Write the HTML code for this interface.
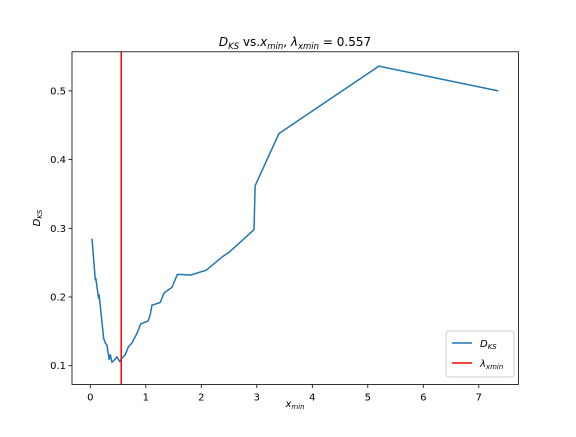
<!DOCTYPE html>
<html><head><meta charset="utf-8"><style>
body{margin:0;background:#fff}
svg text{font-family:"DejaVu Sans","Liberation Sans",sans-serif;fill:#000}
</style></head><body>
<svg id="c" width="576" height="432" xmlns="http://www.w3.org/2000/svg">
<rect width="576" height="432" fill="#fff"/>
<g id="axes"></g>
<text x="295" y="46" text-anchor="middle" font-size="12"><tspan font-style="italic">D</tspan><tspan font-style="italic" font-size="8.5" dy="3">KS</tspan><tspan dy="-3"> vs.</tspan><tspan font-style="italic">x</tspan><tspan font-style="italic" font-size="8.5" dy="3">min</tspan><tspan dy="-3">,  </tspan><tspan font-style="italic">λ</tspan><tspan font-style="italic" font-size="8.5" dy="3">xmin</tspan><tspan dy="-3"> = 0.557</tspan></text>
<text x="295" y="407" text-anchor="middle" font-size="10"><tspan font-style="italic">x</tspan><tspan font-style="italic" font-size="7" dy="2">min</tspan></text>
<text transform="translate(40,218) rotate(-90)" text-anchor="middle" font-size="10"><tspan font-style="italic">D</tspan><tspan font-style="italic" font-size="7" dy="2">KS</tspan></text>
<g>
<rect x="446" y="331" width="68" height="46" rx="3" fill="#fff" stroke="#ccc" stroke-width="1"/>
<line x1="452" y1="343" x2="472" y2="343" stroke="#1f77b4" stroke-width="1.5"/>
<text x="480" y="347" font-size="10"><tspan font-style="italic">D</tspan><tspan font-style="italic" font-size="7" dy="2">KS</tspan></text>
<line x1="452" y1="363" x2="472" y2="363" stroke="red" stroke-width="1.5"/>
<text x="480" y="367" font-size="10"><tspan font-style="italic">λ</tspan><tspan font-style="italic" font-size="7" dy="2">xmin</tspan></text>
</g>
</svg>
<script>
const xVals=[0.03,0.09,0.10,0.12,0.15,0.16,0.24,0.27,0.30,0.34,0.36,0.39,0.44,0.48,0.53,0.57,0.63,0.69,0.75,0.84,0.91,1.04,1.08,1.11,1.26,1.33,1.47,1.57,1.81,2.09,2.37,2.5,2.95,2.97,3.4,5.2,7.35];
const yVals=[0.285,0.225,0.227,0.215,0.198,0.203,0.140,0.133,0.130,0.109,0.116,0.105,0.109,0.113,0.106,0.111,0.116,0.128,0.133,0.147,0.161,0.165,0.174,0.188,0.192,0.206,0.214,0.233,0.232,0.239,0.258,0.265,0.298,0.362,0.438,0.536,0.500];
const lambdaX=0.557;
const xTicks=[0,1,2,3,4,5,6,7];
const yTicks=[0.1,0.2,0.3,0.4,0.5];
const L=72,R=518.4,T=51.8,B=384.5;
const sx=v=>90.3+v*55.5;
const sy=v=>365.7-(v-0.1)*687;
const g=document.getElementById('axes');
const NS='http://www.w3.org/2000/svg';
function mk(t,a){const e=document.createElementNS(NS,t);for(const k in a)e.setAttribute(k,a[k]);g.appendChild(e);return e;}
xTicks.forEach(v=>{
  const l=mk('line',{x1:sx(v),x2:sx(v),y1:B,y2:B+3.5,stroke:'#000','stroke-width':0.8});
  
  
  const t=mk('text',{x:sx(v),y:B+16,'text-anchor':'middle','font-size':10});
  t.textContent=v;
  
  
});
yTicks.forEach(v=>{
  const l=mk('line',{x1:L-3.5,x2:L,y1:sy(v),y2:sy(v),stroke:'#000','stroke-width':0.8});
  
  
  const t=mk('text',{x:L-6,y:sy(v)+3.5,'text-anchor':'end','font-size':10});
  t.textContent=v.toFixed(1);
  
  
});
const p=mk('polyline',{points:xVals.map((x,i)=>sx(x)+','+sy(yVals[i])).join(' '),fill:'none',stroke:'#1f77b4','stroke-width':1.5,'stroke-linejoin':'round'});


const rl=mk('line',{x1:sx(lambdaX),x2:sx(lambdaX),y1:T,y2:B,stroke:'red','stroke-width':1.5});


const fr=mk('rect',{x:L,y:T,width:R-L,height:B-T,fill:'none',stroke:'#000','stroke-width':0.8});


</script>
</body></html>
